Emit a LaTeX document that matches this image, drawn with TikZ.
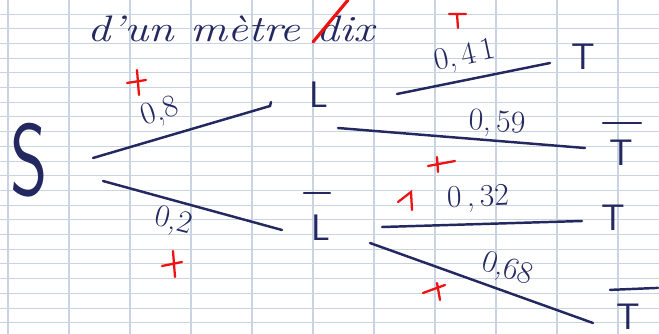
\documentclass[tikz,border=0pt]{standalone}
\usepackage{tikz}

\definecolor{ink}{RGB}{36,40,96}
\definecolor{rule}{RGB}{200,212,226}
\definecolor{pencil}{RGB}{238,18,18}

\begin{document}
\begin{tikzpicture}[x=0.02cm, y=-0.02cm,
  pen/.style={ink, line width=1.4pt, line cap=round},
  prob/.style={ink, font=\fontsize{18}{18}\selectfont, inner sep=0pt},
  event/.style={ink, font=\sffamily\fontsize{21}{21}\selectfont, inner sep=0pt},
  redmark/.style={pencil, line width=1.3pt, line cap=round}]

  \useasboundingbox (0,0) rectangle (659,334);

  % squared paper
  \fill[white] (0,0) rectangle (659,334);
  \foreach \k in {0,...,21}
    \draw[rule, line width=0.5pt] (0,14+14.7*\k) -- (659,14+14.7*\k);
  \foreach \k in {0,...,10}
    \draw[rule, line width=0.6pt] (8+61*\k,0) -- (8+61*\k,334);

  % title, last word struck out
  \node[ink, font=\itshape\fontsize{21}{21}\selectfont, xscale=1.25, anchor=base west] (title) at (80,42) {d'un mètre dix};
  \draw[redmark, line width=1.8pt] (313,42) -- (348,0);

  % root and events
  \node[event, font=\sffamily\fontsize{58}{58}\selectfont, xscale=0.7] (S) at (29,160) {S};
  \node[event] (L) at (319,95) {L};
  \node[event] (Lb) at (321,228) {L};
  \node[event] (T1) at (583,57) {T};
  \node[event] (T2) at (621,153) {T};
  \node[event] (T3) at (613,218) {T};
  \node[event] (T4) at (628,317) {T};

  % bars over the complements
  \draw[pen] ([shift={(-17,-22)}]Lb.north) -- ++(26,0);
  \draw[pen] ([shift={(-18,-17)}]T2.north) -- ++(38,0);
  \draw[pen] ([shift={(-18,-14)}]T4.north) -- ++(48,-2);

  % branch ends
  \coordinate (sL) at (93,158);   \coordinate (Ls) at (270,106);
  \coordinate (sLb) at (103,181); \coordinate (Lbs) at (282,230);
  \coordinate (LT) at (397,94);   \coordinate (TL) at (550,63);
  \coordinate (LTb) at (338,128); \coordinate (TbL) at (585,148);
  \coordinate (LbT) at (382,227); \coordinate (TLb) at (582,221);
  \coordinate (LbTb) at (370,243);\coordinate (TbLb) at (593,323);

  % branches
  \draw[pen] (sL) -- (Ls) -- ++(1,-4);
  \draw[pen] (sLb) -- (Lbs);
  \draw[pen] (LT) -- (TL);
  \draw[pen] (LTb) -- (TbL);
  \draw[pen] (LbT) -- (TLb);
  \draw[pen] (LbTb) -- (TbLb);

  % probabilities
  \node[prob, rotate=18] (p1) at (160,113) {0,8};
  \node[prob, rotate=-14] (p2) at (173,222) {0,2};
  \node[prob, rotate=12] (p3) at (465,57) {0,\,4\,1};
  \node[prob, rotate=-3] (p4) at (497,124) {0,\,59};
  \node[prob, rotate=2] (p5) at (478,199) {0\,,\,32};
  \node[prob, rotate=-18] (p6) at (507,270) {0,68};

  % red ticks of the corrector
  \draw[redmark] (127,83) -- (146,80) (137,70) -- (139,95);
  \draw[redmark] (449,14) -- (466,14) (457,14) -- (458,28);
  \draw[redmark] (428,166) -- (455,161) (437,157) -- (438,172);
  \draw[redmark] (162,266) -- (182,262) (173,251) -- (175,277);
  \draw[redmark] (398,202) -- (411,192) -- (412,210);
  \draw[redmark] (423,293) -- (445,285) (437,283) -- (440,300);
\end{tikzpicture}
\end{document}
